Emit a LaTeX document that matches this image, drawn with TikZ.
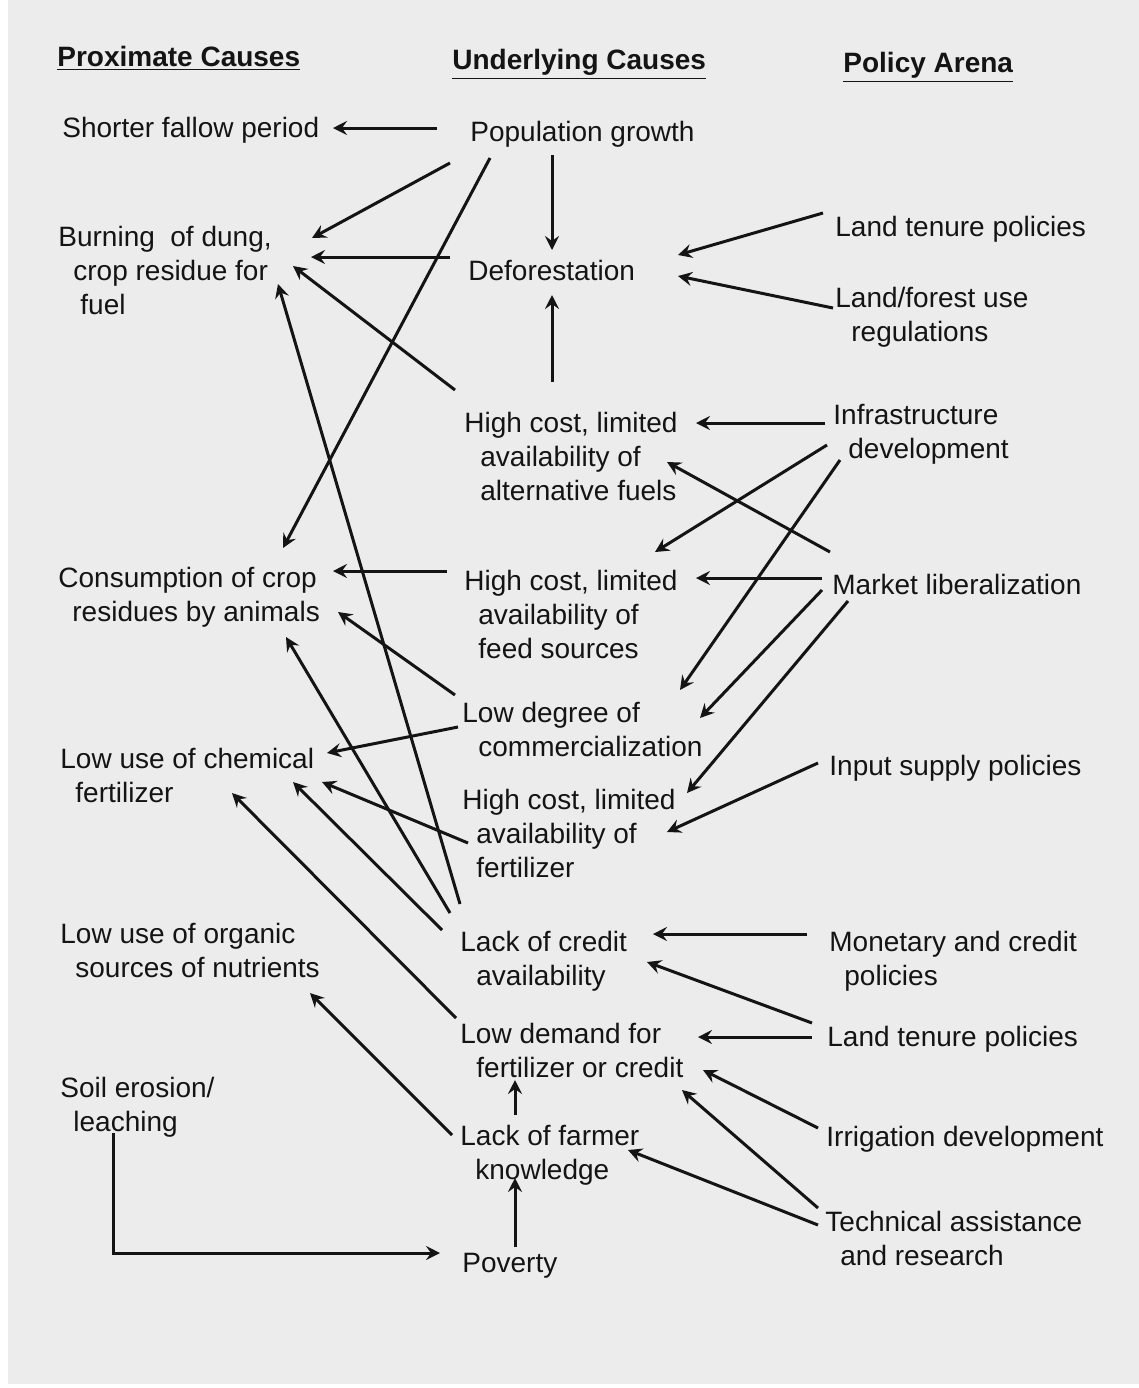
\documentclass[tikz,border=0pt]{standalone}
\usepackage{fontspec}
\setmainfont{Liberation Sans}
\usetikzlibrary{arrows.meta}
\definecolor{paper}{RGB}{236,236,236}
\definecolor{ink}{RGB}{20,20,20}
\begin{document}
\begin{tikzpicture}[x=0.5pt,y=-0.5pt,
  lbl/.style={anchor=north west, inner sep=0pt, align=left, font=\fontsize{14}{17}\selectfont, text=ink},
  hdr/.style={anchor=north west, inner sep=0pt, font=\fontsize{14}{17}\selectfont\bfseries, text=ink},
  arr/.style={draw=ink, line width=1.5pt, -{Stealth[length=7pt,width=7pt,inset=2.5pt]}},
]
\useasboundingbox (0,0) rectangle (1139,1388);
\fill[white] (0,0) rectangle (1139,1388);
\fill[paper] (8,0) rectangle (1139,1384);

% headers
\node[hdr] (h1) at (57,46) {\underline{Proximate Causes}};
\node[hdr] (h2) at (452,49) {\underline{Underlying Causes}};
\node[hdr] (h3) at (843,52) {\underline{Policy Arena}};

% proximate causes
\node[lbl] (fallow) at (62,117) {Shorter fallow period};
\node[lbl] (burn) at (58,226) {Burning\ \ of dung,\\\hspace*{7.5pt}crop residue for\\\hspace*{11pt}fuel};
\node[lbl] (consume) at (58,567) {Consumption of crop\\\hspace*{7pt}residues by animals};
\node[lbl] (chem) at (60,748) {Low use of chemical\\\hspace*{7.5pt}fertilizer};
\node[lbl] (organic) at (60,923) {Low use of organic\\\hspace*{7.5pt}sources of nutrients};
\node[lbl] (soil) at (60,1077) {Soil erosion/\\\hspace*{6.5pt}leaching};

% underlying causes
\node[lbl] (pop) at (470,121) {Population growth};
\node[lbl] (defor) at (468,260) {Deforestation};
\node[lbl] (altfuel) at (464,412) {High cost, limited\\\hspace*{8pt}availability of\\\hspace*{8pt}alternative fuels};
\node[lbl] (feed) at (464,570) {High cost, limited\\\hspace*{7pt}availability of\\\hspace*{7pt}feed sources};
\node[lbl] (comm) at (462,702) {Low degree of\\\hspace*{8pt}commercialization};
\node[lbl] (fert) at (462,789) {High cost, limited\\\hspace*{7pt}availability of\\\hspace*{7pt}fertilizer};
\node[lbl] (credit) at (460,931) {Lack of credit\\\hspace*{8pt}availability};
\node[lbl] (demand) at (460,1023) {Low demand for\\\hspace*{8pt}fertilizer or credit};
\node[lbl] (know) at (460,1125) {Lack of farmer\\\hspace*{7.5pt}knowledge};
\node[lbl] (poverty) at (462,1253) {Poverty};

% policy arena
\node[lbl] (tenureA) at (835,216) {Land tenure policies};
\node[lbl] (landuse) at (835,287) {Land/forest use\\\hspace*{8pt}regulations};
\node[lbl] (infra) at (833,404) {Infrastructure\\\hspace*{7.5pt}development};
\node[lbl] (market) at (832,574) {Market liberalization};
\node[lbl] (input) at (829,755) {Input supply policies};
\node[lbl] (monetary) at (829,931) {Monetary and credit\\\hspace*{7.5pt}policies};
\node[lbl] (tenureB) at (827,1026) {Land tenure policies};
\node[lbl] (irrig) at (826,1126) {Irrigation development};
\node[lbl] (tech) at (825,1211) {Technical assistance\\\hspace*{7.5pt}and research};

% connectors: underlying -> proximate
\draw[arr] ([shift={(-33,7)}]pop.north west) -- ([shift={(271,11)}]fallow.north west);
\draw[arr] ([shift={(-20,42)}]pop.north west) -- ([shift={(254,12)}]burn.north west);
\draw[arr] ([shift={(20,37)}]pop.north west) -- ([shift={(225,-19)}]consume.north west);
\draw[arr] ([shift={(82,34)}]pop.north west) -- ([shift={(84,-10)}]defor.north west);
\draw[arr] ([shift={(-18,-3)}]defor.north west) -- ([shift={(253,31)}]burn.north west);
\draw[arr] ([shift={(-9,-22)}]altfuel.north west) -- ([shift={(235,40)}]burn.north west);
\draw[arr] ([shift={(0,-27)}]credit.north west) -- ([shift={(220,58)}]burn.north west);
\draw[arr] ([shift={(88,-30)}]altfuel.north west) -- ([shift={(84,35)}]defor.north west);
\draw[arr] ([shift={(-17,1)}]feed.north west) -- ([shift={(275,4)}]consume.north west);
\draw[arr] ([shift={(-7,-7)}]comm.north west) -- ([shift={(280,45)}]consume.north west);
\draw[arr] ([shift={(-10,-18)}]credit.north west) -- ([shift={(228,70)}]consume.north west);
\draw[arr] ([shift={(-4,25)}]comm.north west) -- ([shift={(267,5)}]chem.north west);
\draw[arr] ([shift={(6,54)}]fert.north west) -- ([shift={(262,34)}]chem.north west);
\draw[arr] ([shift={(-18,-1)}]credit.north west) -- ([shift={(233,34)}]chem.north west);
\draw[arr] ([shift={(-4,-5)}]demand.north west) -- ([shift={(172,45)}]chem.north west);
\draw[arr] ([shift={(-8,10)}]know.north west) -- ([shift={(250,70)}]organic.north west);
\draw[arr] ([shift={(55,-10)}]know.north west) -- ([shift={(55,57)}]demand.north west);
\draw[arr] ([shift={(53,-6)}]poverty.north west) -- ([shift={(55,53)}]know.north west);
\draw[arr] ([shift={(53,56)}]soil.north west) |- ([shift={(-22,0)}]poverty.north west);

% connectors: policy -> underlying
\draw[arr] ([shift={(-12,-3)}]tenureA.north west) -- ([shift={(210,-5)}]defor.north west);
\draw[arr] ([shift={(-2,21)}]landuse.north west) -- ([shift={(210,16)}]defor.north west);
\draw[arr] ([shift={(-8,19)}]infra.north west) -- ([shift={(232,11)}]altfuel.north west);
\draw[arr] ([shift={(-6,41)}]infra.north west) -- ([shift={(191,-18)}]feed.north west);
\draw[arr] ([shift={(7,56)}]infra.north west) -- ([shift={(218,-12)}]comm.north west);
\draw[arr] ([shift={(-2,-22)}]market.north west) -- ([shift={(203,50)}]altfuel.north west);
\draw[arr] ([shift={(-10,4)}]market.north west) -- ([shift={(232,8)}]feed.north west);
\draw[arr] ([shift={(-10,16)}]market.north west) -- ([shift={(238,16)}]comm.north west);
\draw[arr] ([shift={(16,27)}]market.north west) -- ([shift={(225,4)}]fert.north west);
\draw[arr] ([shift={(-11,8)}]input.north west) -- ([shift={(205,43)}]fert.north west);
\draw[arr] ([shift={(-22,3)}]monetary.north west) -- ([shift={(193,3)}]credit.north west);
\draw[arr] ([shift={(-15,-3)}]tenureB.north west) -- ([shift={(187,31)}]credit.north west);
\draw[arr] ([shift={(-15,11)}]tenureB.north west) -- ([shift={(238,14)}]demand.north west);
\draw[arr] ([shift={(-8,2)}]irrig.north west) -- ([shift={(243,47)}]demand.north west);
\draw[arr] ([shift={(-7,-3)}]tech.north west) -- ([shift={(222,67)}]demand.north west);
\draw[arr] ([shift={(-7,14)}]tech.north west) -- ([shift={(168,25)}]know.north west);
\end{tikzpicture}
\end{document}
